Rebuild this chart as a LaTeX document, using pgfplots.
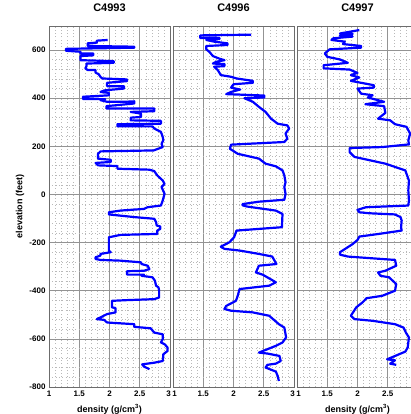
\documentclass[border=0pt]{standalone}
\usepackage{fontspec}
\setmainfont{Liberation Sans}
\usepackage{pgfplots}
\pgfplotsset{compat=1.18}
\begin{document}
\begin{tikzpicture}
\pgfplotsset{
  panel/.style={
    scale only axis, width=121pt, height=361pt, anchor=south west,
    xmin=1, xmax=3, ymin=-800, ymax=700,
    xtick={1,1.5,2,2.5,3}, ytick={-800,-600,...,600},
    minor x tick num=4, minor y tick num=4,
    grid=both,
    major grid style={draw=gray!85, line width=0.7pt},
    minor grid style={draw=gray!55, dash pattern=on 0.7pt off 2.6pt, line width=0.6pt},
    axis line style={draw=gray!85!black, line width=0.7pt},
    tick style={draw=none},
    /pgf/number format/assume math mode=true,
    tick label style={font=\bfseries\fontsize{8}{10}\selectfont},
    title style={font=\bfseries\fontsize{11}{13}\selectfont, at={(axis description cs:0.5,1.033)}, anchor=center},
    xlabel style={font=\bfseries\fontsize{9}{11}\selectfont, at={(axis description cs:0.5,-0.062)}, anchor=center},
    ylabel style={font=\bfseries\fontsize{9}{11}\selectfont, at={(axis description cs:-0.24,0.5)}, anchor=center},
  },
  dens/.style={draw=blue, line width=2.2pt, line join=round, no markers},
}
\begin{axis}[panel, at={(49pt,27pt)}, title={C4993}, xticklabels={1,1.5,2,2.5,{3\kern3pt}}, xlabel={density (g/cm\textsuperscript{3})}, ylabel={elevation (feet)}]
\addplot[dens] coordinates {(1.97,642)(1.79,639)(1.79,631)(1.64,628)(1.64,617)(2.41,614)(2.41,610)(1.28,605)(1.28,597)(1.52,593)(1.52,586)(1.73,586)(1.73,578)(1.52,575)(1.52,558)(2.07,554)(2.07,547)(1.62,544)(1.62,533)(1.60,524)(1.64,517)(1.77,517)(1.77,506)(1.82,500)(1.85,489)(1.88,482)(2.29,478)(2.29,471)(1.96,464)(1.96,450)(2.24,450)(2.24,440)(1.93,433)(1.85,426)(1.99,422)(1.99,412)(1.85,410)(1.56,406)(1.56,397)(1.93,396)(1.85,392)(1.96,385)(2.24,385)(2.41,387)(2.41,378)(1.95,367)(1.95,357)(2.24,357)(2.74,357)(2.74,346)(2.35,343)(2.52,336)(2.52,322)(2.35,319)(2.35,308)(2.85,306)(2.85,294)(2.13,292)(2.13,283)(2.71,283)(2.74,274)(2.85,260)(2.88,239)(2.89,225)(2.86,211)(2.88,197)(2.73,183)(1.85,179)(1.81,169)(1.81,149)(2.02,144)(2.02,135)(1.77,131)(1.81,121)(2.13,118)(2.13,107)(2.66,103)(2.74,97)(2.79,79)(2.88,58)(2.91,44)(2.86,31)(2.91,3)(2.88,-25)(2.85,-46)(2.63,-53)(2.57,-60)(2.18,-67)(1.99,-74)(1.99,-83)(2.18,-88)(2.41,-94)(2.74,-101)(2.77,-115)(2.78,-129)(2.84,-133)(2.84,-143)(2.79,-150)(2.79,-164)(2.18,-168)(1.99,-178)(1.99,-233)(2.02,-240)(1.85,-247)(1.85,-254)(1.77,-261)(1.77,-268)(1.85,-272)(2.18,-275)(2.52,-282)(2.53,-289)(2.63,-296)(2.66,-310)(2.57,-317)(2.29,-319)(2.29,-333)(2.57,-333)(2.53,-338)(2.71,-344)(2.75,-358)(2.77,-379)(2.81,-386)(2.82,-400)(2.82,-428)(2.74,-435)(2.29,-439)(2.04,-442)(2.04,-469)(2.10,-472)(2.10,-490)(1.96,-497)(1.85,-511)(1.79,-518)(1.91,-521)(1.96,-532)(2.41,-539)(2.41,-550)(2.68,-556)(2.74,-574)(2.88,-581)(2.88,-601)(2.85,-615)(2.91,-622)(2.96,-636)(2.96,-650)(2.89,-664)(2.88,-692)(2.74,-699)(2.54,-706)(2.57,-715)(2.66,-726)};
\end{axis}
\begin{axis}[panel, at={(173pt,27pt)}, title={C4996}, yticklabels={}, xticklabels={{\kern3pt1},1.5,2,2.5,{3\kern3pt}}]
\addplot[dens] coordinates {(2.29,664)(1.45,661)(1.45,650)(1.77,650)(1.77,646)(1.55,642)(1.68,635)(1.90,628)(1.90,621)(1.55,617)(1.55,603)(1.60,593)(1.66,575)(1.77,564)(1.85,558)(1.71,551)(1.66,544)(1.85,542)(1.85,533)(1.68,531)(1.74,517)(1.79,496)(1.96,489)(2.05,482)(2.32,472)(2.32,464)(2.00,458)(1.96,444)(2.11,436)(1.96,426)(1.88,417)(2.51,411)(2.51,403)(2.18,400)(2.32,385)(2.42,364)(2.53,343)(2.62,315)(2.73,294)(2.89,287)(2.92,274)(2.86,253)(2.89,232)(2.84,218)(1.96,207)(1.94,190)(2.07,169)(2.42,149)(2.53,128)(2.70,117)(2.81,100)(2.84,79)(2.86,51)(2.84,31)(2.86,3)(2.84,-22)(2.42,-30)(2.15,-40)(2.15,-45)(2.22,-50)(2.70,-67)(2.81,-81)(2.80,-136)(2.05,-150)(2.01,-178)(1.93,-199)(1.79,-217)(1.85,-226)(2.10,-233)(2.42,-247)(2.64,-258)(2.71,-289)(2.42,-296)(2.37,-324)(2.48,-333)(2.64,-356)(2.70,-365)(2.59,-379)(2.10,-393)(2.07,-421)(2.04,-442)(1.88,-463)(1.85,-476)(1.96,-483)(2.32,-490)(2.59,-504)(2.75,-539)(2.84,-553)(2.87,-594)(2.81,-615)(2.70,-629)(2.42,-657)(2.56,-661)(2.76,-671)(2.78,-692)(2.70,-703)(2.56,-708)(2.53,-719)(2.70,-736)(2.73,-754)(2.75,-775)};
\end{axis}
\begin{axis}[panel, at={(297pt,27pt)}, title={C4997}, yticklabels={}, xticklabels={{\kern3pt1},1.5,2,2.5,{}}, xlabel={density (g/cm\textsuperscript{3})}]
\addplot[dens] coordinates {(2.03,683)(1.87,676)(1.71,669)(1.92,667)(1.71,661)(1.92,656)(1.60,649)(1.57,642)(1.79,635)(1.76,625)(2.06,617)(2.06,610)(1.54,603)(1.46,586)(1.50,572)(1.71,561)(1.84,547)(1.44,537)(1.44,524)(1.87,519)(2.00,505)(1.89,496)(2.03,486)(1.89,472)(2.27,454)(2.27,444)(2.00,440)(2.06,419)(2.25,412)(2.17,403)(2.44,385)(2.13,375)(2.44,367)(2.46,339)(2.34,315)(2.54,308)(2.62,292)(2.81,281)(2.87,253)(2.84,225)(2.85,208)(2.41,197)(1.87,193)(1.87,176)(1.95,156)(2.46,128)(2.79,100)(2.85,58)(2.84,17)(2.85,-25)(2.84,-46)(2.14,-53)(2.00,-64)(2.03,-74)(2.19,-78)(2.62,-83)(2.71,-94)(2.73,-108)(2.72,-136)(2.73,-150)(2.35,-164)(2.03,-175)(2.00,-189)(1.92,-206)(1.84,-219)(1.71,-240)(1.71,-250)(1.84,-258)(2.62,-272)(2.64,-296)(2.46,-317)(2.34,-324)(2.38,-338)(2.52,-344)(2.64,-372)(2.62,-400)(2.41,-421)(2.15,-431)(2.08,-449)(1.98,-469)(1.89,-504)(1.95,-518)(2.25,-525)(2.62,-539)(2.76,-553)(2.80,-574)(2.85,-594)(2.83,-636)(2.79,-653)(2.49,-685)(2.62,-689)(2.54,-703)(2.64,-708)};
\end{axis}
\pgfresetboundingbox
\useasboundingbox (0pt,0pt) rectangle (410pt,414pt);
\end{tikzpicture}
\end{document}
